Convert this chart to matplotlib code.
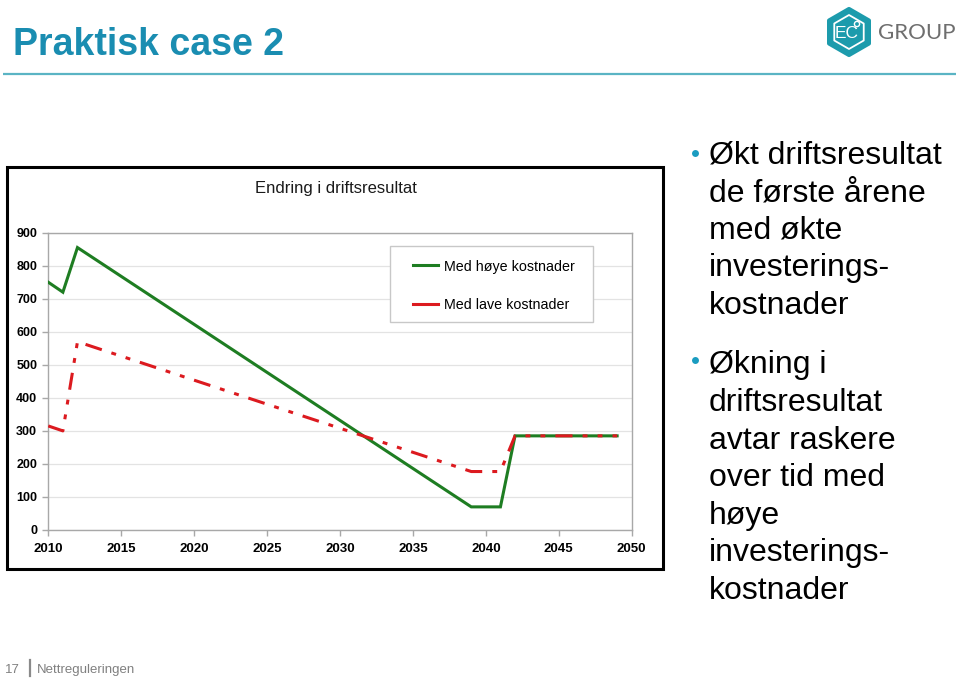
import matplotlib
matplotlib.use("Agg")
import matplotlib.pyplot as plt
from matplotlib.patches import Rectangle, RegularPolygon, Circle
from matplotlib.lines import Line2D

plt.rcParams['font.family'] = ['Liberation Sans', 'DejaVu Sans']

# ---------------- data ----------------
years = [2010, 2011, 2012, 2039, 2041, 2042, 2049]
hoye_kostnader = [750, 720, 855, 70, 70, 285, 285]
lave_kostnader = [315, 300, 570, 177, 177, 285, 285]
series_labels = ["Med høye kostnader", "Med lave kostnader"]
chart_title = "Endring i driftsresultat"
x_ticks = [2010, 2015, 2020, 2025, 2030, 2035, 2040, 2045, 2050]
y_ticks = [0, 100, 200, 300, 400, 500, 600, 700, 800, 900]

page_title = "Praktisk case 2"
bullet1 = ["Økt driftsresultat", "de første årene", "med økte", "investerings-", "kostnader"]
bullet2 = ["Økning i", "driftsresultat", "avtar raskere", "over tid med", "høye", "investerings-", "kostnader"]
footer_num = "17"
footer_text = "Nettreguleringen"

GREEN = "#1E7D22"
RED = "#DC1A1F"
TEAL = "#1A8DB1"

W, H = 960, 678
fig = plt.figure(figsize=(W / 100, H / 100), dpi=100, facecolor="white")

# background axes in pixel coordinates
bg = fig.add_axes([0, 0, 1, 1])
bg.set_xlim(0, W)
bg.set_ylim(H, 0)
bg.axis("off")
bg.set_zorder(-1)

# page title and underline
bg.text(13, 55, page_title, fontsize=27, fontweight="bold", color=TEAL, va="baseline", ha="left")
bg.plot([3, 956], [74, 74], color="#5AB4C4", lw=1.6, solid_capstyle="butt")

# logo
bg.add_patch(RegularPolygon((849, 32), numVertices=6, radius=23, facecolor="#1C9BAC",
                            edgecolor="#1C9BAC", lw=3, joinstyle="round"))
bg.add_patch(RegularPolygon((849, 32), numVertices=6, radius=17, facecolor="none",
                            edgecolor="white", lw=1.3, joinstyle="round"))
bg.text(847, 33, "EC", fontsize=12.5, color="white", ha="center", va="center")
bg.add_patch(Circle((857, 24), 2.6, facecolor="none", edgecolor="white", lw=1.0))
bg.text(917, 33, "GROUP", fontsize=16, color="#6E6E6E", ha="center", va="center",
        family=["Lato", "Liberation Sans"])

# chart frame
bg.add_patch(Rectangle((7, 167), 656, 402, facecolor="white", edgecolor="black", lw=2.2))
bg.text(335.5, 188, chart_title, fontsize=12, color="#1A1A1A", ha="center", va="center")

# bullets
pitch = 37.6
for i, line in enumerate(bullet1):
    bg.text(709, 163.5 + i * pitch, line, fontsize=23, color="black", va="baseline", ha="left")
for i, line in enumerate(bullet2):
    bg.text(709, 373.5 + i * pitch, line, fontsize=23, color="black", va="baseline", ha="left")
bg.plot([695], [153], marker="o", ms=5, color="#1A9CC0", mec="none")
bg.plot([695], [360], marker="o", ms=5, color="#1A9CC0", mec="none")

# footer
bg.text(5, 673, footer_num, fontsize=9.5, color="#808080", va="baseline", ha="left")
bg.plot([29.5, 29.5], [660, 676], color="#8A8A8A", lw=1.6)
bg.text(37, 673, footer_text, fontsize=9.5, color="#808080", va="baseline", ha="left")

# ---------------- chart axes ----------------
x0, x1 = 48.3, 631.7
y_top, y_bot = 232.7, 530.0
ax = fig.add_axes([x0 / W, (H - y_bot) / H, (x1 - x0) / W, (y_bot - y_top) / H])
ax.set_facecolor("white")

ax.plot(years, hoye_kostnader, color=GREEN, lw=2.2, solid_joinstyle="miter", zorder=3,
        label=series_labels[0])
ax.plot(years, lave_kostnader, color=RED, lw=2.2, dashes=(5.6, 3.3, 1.6, 3.3, 1.6, 3.3),
        zorder=4, label=series_labels[1])

ax.set_xlim(2010, 2050)
ax.set_ylim(0, 900)
ax.set_xticks(x_ticks)
ax.set_yticks(y_ticks)
ax.set_xticklabels([str(t) for t in x_ticks], fontsize=9.5, fontweight="bold")
ax.set_yticklabels([str(t) for t in y_ticks], fontsize=9, fontweight="bold")
ax.grid(axis="y", color="#E3E3E3", lw=0.9)
ax.set_axisbelow(True)
for s in ax.spines.values():
    s.set_color("#A8A8A8")
    s.set_linewidth(1.0)
ax.tick_params(axis="x", direction="out", length=4, width=1, color="#A8A8A8", pad=5)
ax.tick_params(axis="y", direction="out", length=4, width=1, color="#A8A8A8", pad=4)

# legend: box drawn separately, entries via legend without frame
ax.add_patch(Rectangle((390, 246), 203, 76, facecolor="white", edgecolor="#C8C8C8", lw=1.0,
                       transform=bg.transData, zorder=5, clip_on=False))
handles = [Line2D([0], [0], color=GREEN, lw=2.2),
           Line2D([0], [0], color=RED, lw=2.2)]
leg = ax.legend(handles, series_labels, loc="upper left",
                bbox_to_anchor=((413 - x0) / (x1 - x0), (y_bot - 259.5) / (y_bot - y_top)),
                fontsize=10.3, frameon=False,
                borderpad=0, labelspacing=1.68, handlelength=1.75, handletextpad=0.4,
                borderaxespad=0)
leg.set_zorder(6)

fig.savefig("out.png", dpi=100, facecolor="white")
